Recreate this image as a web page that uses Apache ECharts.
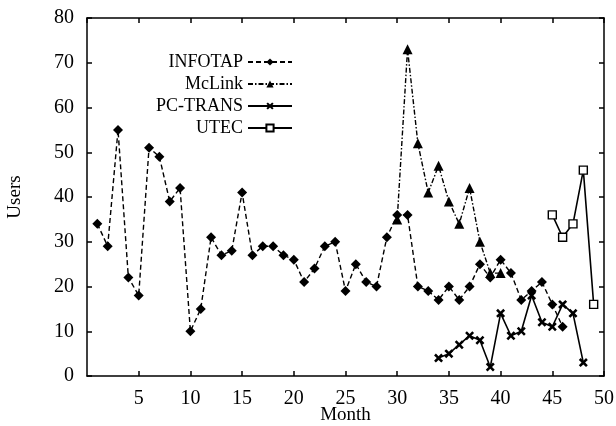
<!DOCTYPE html>
<html>
<head>
<meta charset="utf-8">
<script src="https://cdn.jsdelivr.net/npm/echarts@6/dist/echarts.min.js"></script>
<style>
  html, body { margin: 0; padding: 0; background: #fff; }
  #chart { width: 616px; height: 426px; }
</style>
</head>
<body>
<div id="chart"></div>
<script>
// data: each series starts at a given month
var infotapStart = 1;
var infotap = [34, 29, 55, 22, 18, 51, 49, 39, 42, 10, 15, 31, 27, 28, 41, 27, 29, 29, 27, 26,
               21, 24, 29, 30, 19, 25, 21, 20, 31, 36, 36, 20, 19, 17, 20, 17, 20, 25, 22, 26,
               23, 17, 19, 21, 16, 11];
var mclinkStart = 30;
var mclink = [35, 73, 52, 41, 47, 39, 34, 42, 30, 23, 23];
var pctransStart = 34;
var pctrans = [4, 5, 7, 9, 8, 2, 14, 9, 10, 18, 12, 11, 16, 14, 3];
var utecStart = 45;
var utec = [36, 31, 34, 46, 16];
var names = ['INFOTAP', 'McLink', 'PC-TRANS', 'UTEC'];

function toPairs(start, values) {
    var out = [];
    for (var i = 0; i < values.length; i++) {
        out.push([start + i, values[i]]);
    }
    return out;
}

var font = '"Liberation Serif", "Times New Roman", serif';
var xMark = 'path://M0,2L2,0L5,3L8,0L10,2L7,5L10,8L8,10L5,7L2,10L0,8L3,5Z';

var chart = echarts.init(document.getElementById('chart'));

// one legend per row so the text is right aligned and the icons line up
var legends = [];
for (var k = 0; k < names.length; k++) {
    legends.push({
        data: [names[k]],
        right: 323,
        top: 53 + k * 22,
        align: 'right',
        padding: 0,
        itemWidth: 44,
        itemHeight: 9,
        selectedMode: false,
        textStyle: { fontFamily: font, fontSize: 18, color: '#000' }
    });
}

var axisCommon = {
    axisLine: { show: true, onZero: false, lineStyle: { color: '#000', width: 1.5 } },
    axisTick: { show: true, inside: true, length: 5, lineStyle: { color: '#000', width: 1.5 } },
    splitLine: { show: false }
};

var option = {
    animation: false,
    backgroundColor: '#fff',
    legend: legends,
    grid: { left: 87, right: 12, top: 18, bottom: 50, containLabel: false, outerBoundsMode: 'none' },
    xAxis: [
        Object.assign({
            type: 'value', min: 0, max: 50, interval: 5,
            name: 'Month', nameLocation: 'middle', nameGap: 30, nameMoveOverlap: false,
            nameTextStyle: { fontFamily: font, fontSize: 19, color: '#000' },
            axisLabel: { showMinLabel: false, margin: 13, fontFamily: font, fontSize: 20, color: '#000' }
        }, axisCommon),
        Object.assign({
            type: 'value', min: 0, max: 50, interval: 5, position: 'top',
            axisLabel: { show: false }
        }, axisCommon)
    ],
    yAxis: [
        Object.assign({
            type: 'value', min: 0, max: 80, interval: 10,
            name: 'Users', nameLocation: 'middle', nameGap: 62, nameMoveOverlap: false,
            nameTextStyle: { fontFamily: font, fontSize: 19, color: '#000' },
            axisLabel: { margin: 13, fontFamily: font, fontSize: 20, color: '#000' }
        }, axisCommon),
        Object.assign({
            type: 'value', min: 0, max: 80, interval: 10, position: 'right',
            axisLabel: { show: false }
        }, axisCommon)
    ],
    series: [
        {
            name: 'INFOTAP', type: 'line',
            data: toPairs(infotapStart, infotap),
            symbol: 'diamond', symbolSize: 10,
            itemStyle: { color: '#000' },
            lineStyle: { color: '#000', width: 1.4, type: [5, 3] }
        },
        {
            name: 'McLink', type: 'line',
            data: toPairs(mclinkStart, mclink),
            symbol: 'triangle', symbolSize: 10,
            itemStyle: { color: '#000' },
            lineStyle: { color: '#000', width: 1.4, type: [5, 2, 1.5, 2] }
        },
        {
            name: 'PC-TRANS', type: 'line',
            data: toPairs(pctransStart, pctrans),
            symbol: xMark, symbolSize: 9,
            itemStyle: { color: '#000' },
            lineStyle: { color: '#000', width: 1.6 }
        },
        {
            name: 'UTEC', type: 'line',
            data: toPairs(utecStart, utec),
            symbol: 'rect', symbolSize: 8,
            itemStyle: { color: '#fff', borderColor: '#000', borderWidth: 1.4 },
            lineStyle: { color: '#000', width: 1.6 }
        }
    ]
};

chart.setOption(option);
</script>
</body>
</html>
